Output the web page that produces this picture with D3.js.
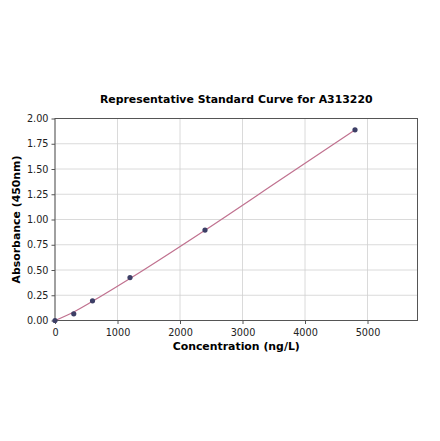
<!DOCTYPE html>
<html>
<head>
<meta charset="utf-8">
<script src="https://cdn.jsdelivr.net/npm/d3@7"></script>
<style>
  body { margin: 0; background: #fff; }
  svg { font-family: "DejaVu Sans", sans-serif; }
</style>
</head>
<body>
<svg id="chart" width="440" height="441"></svg>
<script>
// standard points
const concentrations = [0, 300, 600, 1200, 2400, 4800];
const absorbances = [0.0, 0.066, 0.195, 0.425, 0.895, 1.888];
// fitted curve as drawn (read at a few concentrations)
const fitConc = [0, 300, 600, 1200, 2400, 3600, 4800];
const fitAbs = [0.0, 0.085, 0.19, 0.415, 0.893, 1.39, 1.888];
const xTicks = [0, 1000, 2000, 3000, 4000, 5000];
const yTicks = [0, 0.25, 0.5, 0.75, 1.0, 1.25, 1.5, 1.75, 2.0];

let svg = d3.select("#chart"),
    margin = { top: 118.5, right: 22.5, bottom: 120.5, left: 55 },
    width = 440 - margin.left - margin.right,
    height = 441 - margin.top - margin.bottom,
    x = d3.scaleLinear().domain([0, 5800]).range([0, width]),
    y = d3.scaleLinear().domain([0, 2]).range([height, 0]),
    g = svg.append("g").attr("transform", `translate(${margin.left},${margin.top})`);

// grid
g.append("g")
    .selectAll("line")
    .data(xTicks)
    .enter().append("line")
    .attr("x1", d => x(d)).attr("x2", d => x(d))
    .attr("y1", 0).attr("y2", height)
    .attr("stroke", "#d0d0d0").attr("stroke-width", 0.8);
g.append("g")
    .selectAll("line")
    .data(yTicks)
    .enter().append("line")
    .attr("x1", 0).attr("x2", width)
    .attr("y1", d => y(d)).attr("y2", d => y(d))
    .attr("stroke", "#d0d0d0").attr("stroke-width", 0.8);

// axes
let xAxis = g.append("g")
    .attr("transform", `translate(0,${height})`)
    .call(d3.axisBottom(x).tickValues(xTicks).tickFormat(d3.format("d")).tickSize(3.5).tickSizeOuter(0));
let yAxis = g.append("g")
    .call(d3.axisLeft(y).tickValues(yTicks).tickFormat(d3.format(".2f")).tickSize(3.5).tickSizeOuter(0));
[xAxis, yAxis].forEach(a => {
    a.select(".domain").remove();
    a.selectAll(".tick line").attr("stroke", "#555");
    a.selectAll(".tick text").attr("fill", "#222").style("font-size", "9.7px").style("font-family", "DejaVu Sans");
});
xAxis.selectAll(".tick text").attr("dy", "0.9em");

// frame
g.append("rect")
    .attr("width", width).attr("height", height)
    .attr("fill", "none").attr("stroke", "#555").attr("stroke-width", 1);

// fitted line
let line = d3.line()
    .x((d, i) => x(fitConc[i]))
    .y(d => y(d))
    .curve(d3.curveMonotoneX);
g.append("path")
    .datum(fitAbs)
    .attr("d", line)
    .attr("fill", "none")
    .attr("stroke", "#c0718f")
    .attr("stroke-width", 1.2);

// points
g.selectAll(".pt")
    .data(absorbances)
    .enter().append("circle")
    .attr("class", "pt")
    .attr("cx", (d, i) => x(concentrations[i]))
    .attr("cy", d => y(d))
    .attr("r", 2.6)
    .attr("fill", "#3d3f66");

// title and labels
svg.append("text")
    .attr("x", margin.left + width / 2).attr("y", 103)
    .attr("text-anchor", "middle")
    .style("font-size", "10.9px").style("font-weight", "bold")
    .text("Representative Standard Curve for A313220");
svg.append("text")
    .attr("x", margin.left + width / 2).attr("y", 350)
    .attr("text-anchor", "middle")
    .style("font-size", "10.9px").style("font-weight", "bold")
    .text("Concentration (ng/L)");
svg.append("text")
    .attr("transform", `translate(20,${margin.top + height / 2}) rotate(-90)`)
    .attr("text-anchor", "middle")
    .style("font-size", "10.9px").style("font-weight", "bold")
    .text("Absorbance (450nm)");
</script>
</body>
</html>
